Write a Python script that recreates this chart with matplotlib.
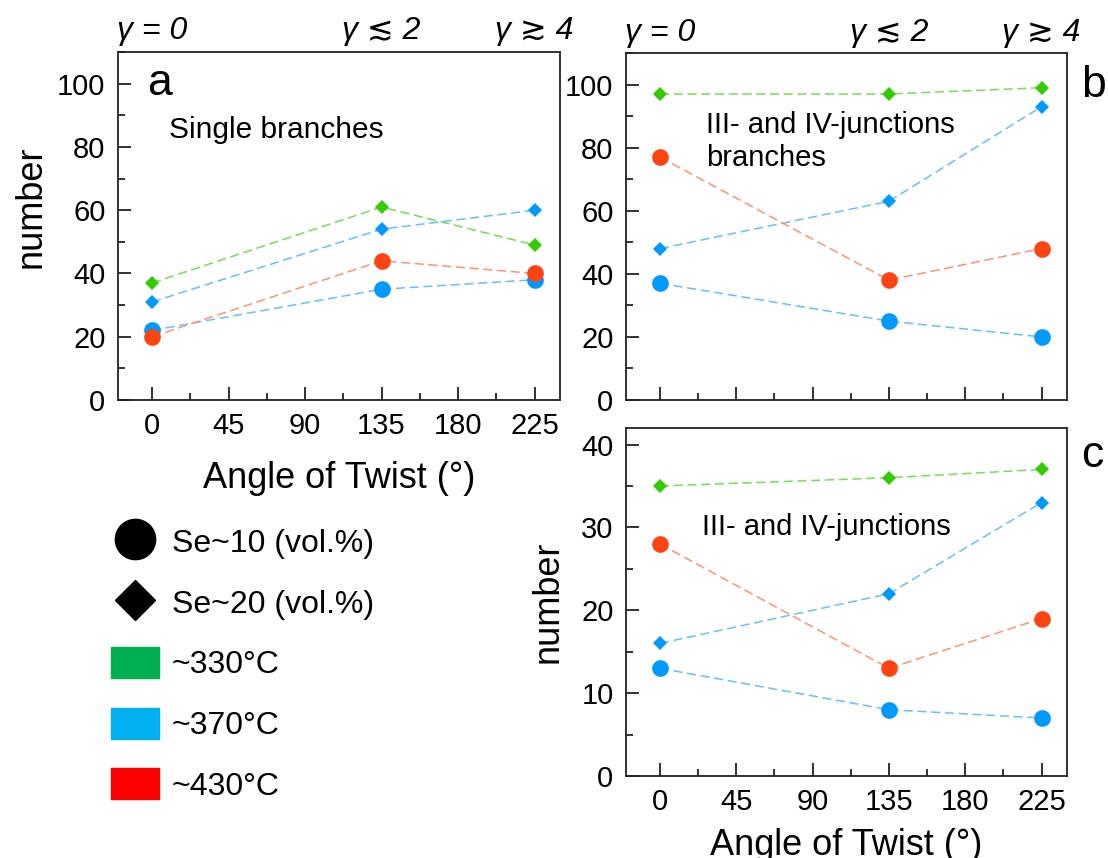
import matplotlib.pyplot as plt
from matplotlib.lines import Line2D
from matplotlib.patches import Patch
from matplotlib.ticker import MultipleLocator

plt.rcParams['font.family'] = ['Liberation Sans', 'DejaVu Sans']

# angle of twist (deg)
angles = [0, 135, 225]

# panel a: single branches
a_330_se20 = [37, 61, 49]
a_370_se20 = [31, 54, 60]
a_370_se10 = [22, 35, 38]
a_430_se10 = [20, 44, 40]

# panel b: III- and IV-junctions branches
b_330_se20 = [97, 97, 99]
b_370_se20 = [48, 63, 93]
b_370_se10 = [37, 25, 20]
b_430_se10 = [77, 38, 48]

# panel c: III- and IV-junctions
c_330_se20 = [35, 36, 37]
c_370_se20 = [16, 22, 33]
c_370_se10 = [13, 8, 7]
c_430_se10 = [28, 13, 19]

gamma_labels = ['γ = 0', 'γ ≲ 2', 'γ ≳ 4']
legend_labels = ['Se~10 (vol.%)', 'Se~20 (vol.%)', '~330°C', '~370°C', '~430°C']

# marker colour, line colour
GREEN = ('#33cc00', '#77dd55')
BLUE = ('#0099ff', '#66c0ff')
RED = ('#ff4411', '#ff9473')


def series(ax, y, col, marker):
    ms = 12 if marker == 'o' else 7.6
    ax.plot(angles, y, ls='--', lw=1.1, dashes=(6, 3), color=col[1],
            marker=marker, ms=ms, mfc=col[0], mec=col[0], mew=0)


def style(ax, ymax, ymaj, ymin, xlabels=True):
    ax.set_xlim(-20, 240)
    ax.set_ylim(0, ymax)
    ax.xaxis.set_major_locator(MultipleLocator(45))
    ax.xaxis.set_minor_locator(MultipleLocator(22.5))
    ax.yaxis.set_major_locator(MultipleLocator(ymaj))
    ax.yaxis.set_minor_locator(MultipleLocator(ymin))
    ax.tick_params(which='both', direction='in', top=False, right=False,
                   width=1.3, color='#222222', labelsize=21, pad=9)
    ax.tick_params(which='major', length=9.5)
    ax.tick_params(which='minor', length=5)
    if not xlabels:
        ax.tick_params(axis='x', labelbottom=False)
    for s in ax.spines.values():
        s.set_linewidth(1.3)
        s.set_color('#222222')


fig = plt.figure(figsize=(11.08, 8.58), dpi=100)
ax_a = fig.add_axes([118 / 1108, 1 - 400 / 858, 442 / 1108, 348 / 858])
ax_b = fig.add_axes([626 / 1108, 1 - 400 / 858, 441 / 1108, 347 / 858])
ax_c = fig.add_axes([626 / 1108, 1 - 776 / 858, 441 / 1108, 348 / 858])

for ax, d in [(ax_a, (a_330_se20, a_370_se20, a_370_se10, a_430_se10)),
              (ax_b, (b_330_se20, b_370_se20, b_370_se10, b_430_se10)),
              (ax_c, (c_330_se20, c_370_se20, c_370_se10, c_430_se10))]:
    series(ax, d[0], GREEN, 'D')
    series(ax, d[1], BLUE, 'D')
    series(ax, d[2], BLUE, 'o')
    series(ax, d[3], RED, 'o')

style(ax_a, 110, 20, 10)
style(ax_b, 110, 20, 10, xlabels=False)
style(ax_c, 42, 10, 5)

ax_a.set_xlabel('Angle of Twist (°)', fontsize=26, labelpad=15)
ax_c.set_xlabel('Angle of Twist (°)', fontsize=26, labelpad=8)
ax_a.set_ylabel('number', fontsize=26)
ax_a.yaxis.set_label_coords(-0.158, 0.555)
ax_c.set_ylabel('number', fontsize=26)
ax_c.yaxis.set_label_coords(-0.138, 0.5)

for ax in (ax_a, ax_b):
    for xv, lab in zip(angles, gamma_labels):
        ax.annotate(lab, xy=(xv, 1), xycoords=('data', 'axes fraction'),
                    xytext=(0, 9), textcoords='offset points',
                    ha='center', va='baseline', fontsize=23, style='italic')

ax_a.text(-3, 100, 'a', fontsize=32, ha='left', va='center')
ax_a.text(10, 85.5, 'Single branches', fontsize=21.5, ha='left', va='center')
ax_b.text(1.032, 0.905, 'b', transform=ax_b.transAxes, fontsize=32,
          ha='left', va='center')
ax_b.text(27, 82, 'III- and IV-junctions\nbranches', fontsize=21,
          ha='left', va='center', linespacing=1.2)
ax_c.text(1.032, 0.92, 'c', transform=ax_c.transAxes, fontsize=32,
          ha='left', va='center')
ax_c.text(25, 30, 'III- and IV-junctions', fontsize=21,
          ha='left', va='center')

handles = [
    Line2D([], [], ls='none', marker='o', ms=29, mfc='black', mec='black'),
    Line2D([], [], ls='none', marker='D', ms=20, mfc='black', mec='black'),
    Patch(color='#00b050'),
    Patch(color='#00b0f0'),
    Patch(color='#ff0000'),
]
fig.legend(handles, legend_labels, loc='upper left',
           bbox_to_anchor=(111 / 1108, 1 - 526 / 858), frameon=False,
           fontsize=23, handlelength=1.5, handleheight=1.12,
           handletextpad=0.4, labelspacing=0.85, borderpad=0,
           borderaxespad=0)

fig.savefig('out.png', dpi=100)
